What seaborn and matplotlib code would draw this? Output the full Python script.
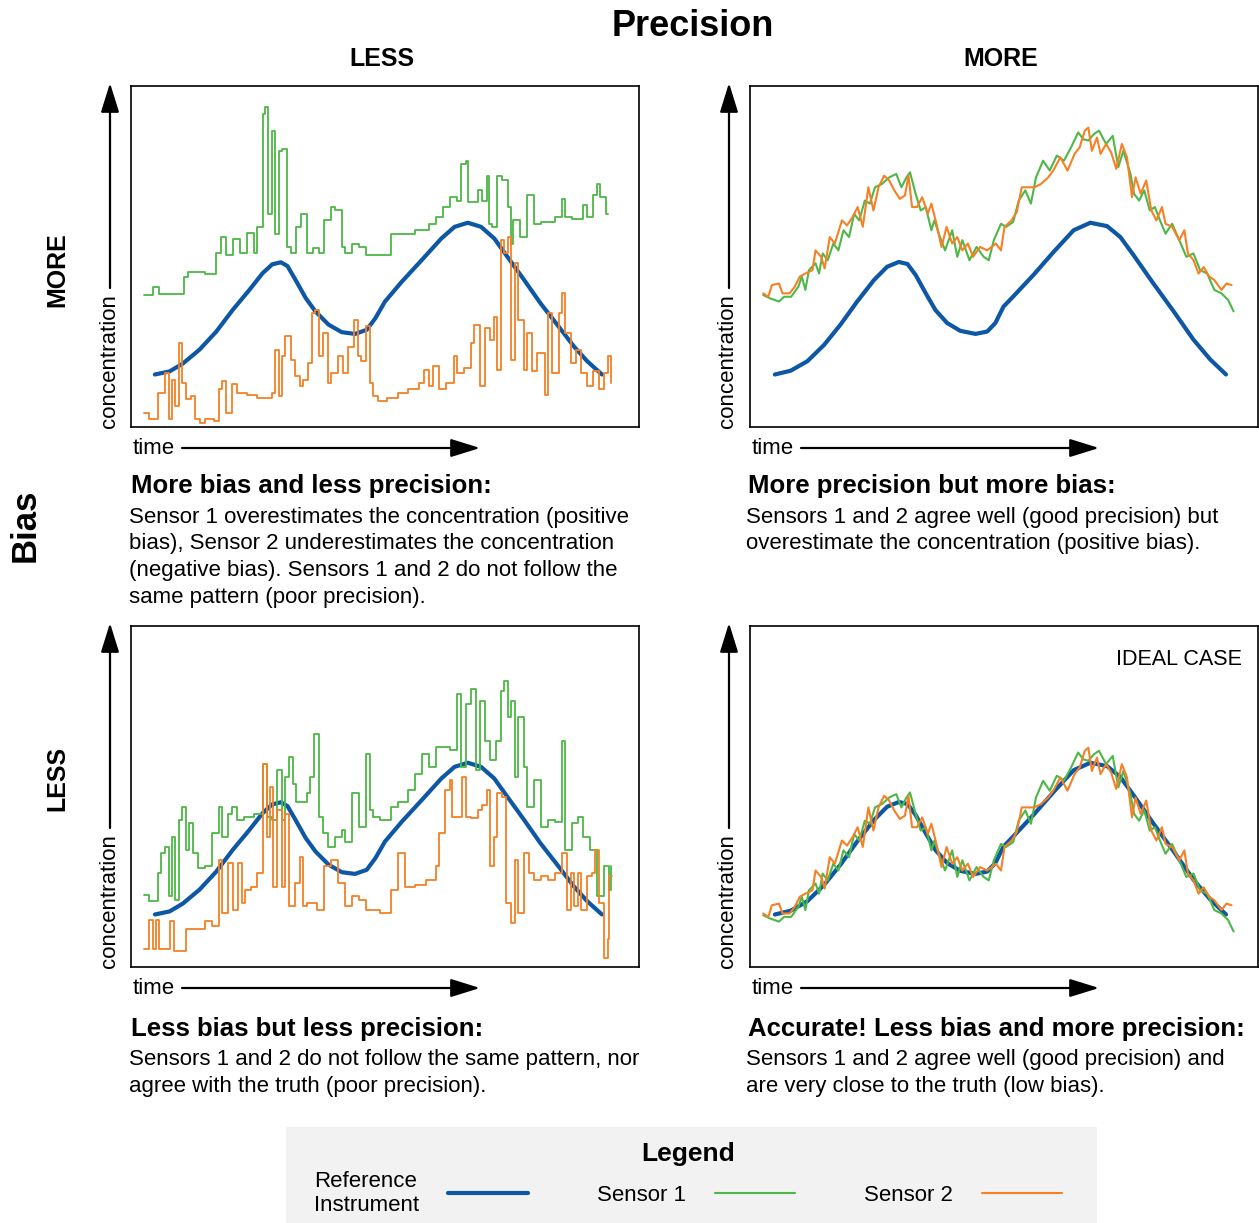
import numpy as np
import matplotlib.pyplot as plt
import seaborn as sns
from matplotlib.patches import Rectangle

sns.set_theme(style="white")
plt.rcParams['font.family'] = ['Liberation Sans', 'DejaVu Sans']
plt.rcParams['text.color'] = 'black'

BLUE = "#0d57a5"
GREEN = "#4cb847"
ORANGE = "#f58025"

# Reference instrument (truth), time and concentration in arbitrary 0-100 units
ref_left_t = [4.7, 7.6, 10.2, 13.5, 16.8, 20.0, 23.3, 25.9, 27.8, 29.5, 30.8, 32.4, 34.4, 36.3,
              38.9, 41.5, 44.1, 46.4, 48.1, 50.0, 53.3, 57.2, 61.1, 63.7, 66.3, 68.9, 71.5, 74.1,
              77.4, 80.6, 83.9, 87.2, 89.8, 92.7]
ref_left_c = [15.4, 16.3, 18.6, 22.7, 28.0, 34.3, 40.2, 45.1, 47.7, 48.3, 47.2, 43.1, 37.8, 33.9,
              30.0, 27.8, 27.3, 28.5, 31.9, 36.8, 42.6, 48.9, 55.3, 58.7, 59.9, 58.7, 55.3, 49.9,
              43.1, 36.3, 30.0, 23.6, 19.3, 15.4]

ref_right_t = [4.9, 8.0, 11.3, 14.6, 17.8, 21.1, 24.4, 27.0, 29.3, 31.0, 32.6, 34.6, 36.5, 38.8,
               41.4, 44.4, 46.7, 48.3, 49.9, 51.9, 55.8, 59.8, 63.7, 67.0, 70.3, 72.9, 75.5, 79.4,
               83.4, 87.3, 90.6, 93.7]
ref_right_c = [15.4, 16.5, 19.3, 24.1, 30.0, 36.8, 43.1, 47.0, 48.4, 47.8, 44.6, 39.2, 34.3, 30.5,
               28.2, 27.3, 28.0, 30.5, 35.3, 38.4, 44.6, 51.4, 57.7, 59.9, 58.9, 55.7, 50.4, 42.1,
               33.9, 25.6, 19.8, 15.4]

# More bias, less precision (top left)
tl_s1_t = [2.5, 4.3, 5.6, 10.5, 11.2, 14.6, 16.7, 17.7, 18.7, 20.1, 21.5, 22.9, 24.2, 24.9, 26.0,
           26.3, 27.0, 27.7, 28.4, 29.1, 29.8, 30.8, 31.5, 32.5, 33.5, 34.6, 35.9, 37.0, 38.0, 39.4,
           40.1, 41.5, 42.1, 43.5, 44.9, 46.3, 51.1, 55.9, 58.7, 60.1, 61.4, 62.8, 64.2, 64.9, 65.9,
           66.3, 68.3, 69.0, 70.0, 70.4, 71.1, 72.1, 73.1, 74.2, 74.9, 75.2, 76.6, 78.0, 79.3, 80.7,
           83.5, 84.8, 85.5, 86.9, 89.0, 89.7, 91.0, 91.7, 92.4, 93.5, 93.8]
tl_s1_c = [38.7, 41.0, 39.0, 44.0, 45.5, 45.0, 51.0, 55.7, 50.4, 55.0, 51.0, 57.0, 51.0, 58.6, 91.7,
           93.7, 62.5, 86.9, 56.7, 81.0, 81.5, 52.8, 50.9, 58.6, 62.5, 50.9, 52.5, 50.9, 60.6, 64.5,
           63.5, 52.8, 51.0, 53.8, 52.8, 50.4, 56.7, 57.7, 59.6, 61.6, 64.5, 67.4, 66.4, 77.1, 78.1,
           66.0, 69.4, 66.4, 73.7, 59.6, 58.6, 73.7, 72.3, 64.5, 53.8, 60.6, 55.7, 67.9, 59.6, 60.1,
           61.6, 66.9, 61.6, 61.0, 65.0, 61.6, 67.9, 71.3, 67.4, 62.5, 62.5]

tl_s2_t = [2.5, 3.6, 5.3, 6.7, 7.4, 8.1, 8.7, 9.4, 10.1, 10.8, 11.8, 12.5, 13.6, 14.6, 16.3, 17.4,
           18.0, 18.7, 19.8, 20.8, 22.9, 24.9, 27.7, 28.4, 29.1, 29.8, 30.4, 31.5, 32.2, 33.2, 33.9,
           34.9, 35.6, 36.3, 37.0, 37.7, 38.7, 39.4, 40.8, 41.8, 42.8, 43.9, 44.6, 45.2, 46.3, 47.0,
           47.7, 48.7, 50.4, 52.5, 54.5, 56.6, 57.6, 58.7, 59.4, 60.7, 62.1, 63.5, 64.2, 65.6, 66.9,
           67.6, 68.7, 69.7, 70.7, 71.4, 72.1, 72.8, 73.5, 74.2, 74.9, 75.6, 76.2, 77.3, 78.0, 79.0,
           80.0, 81.4, 82.1, 82.8, 84.2, 84.8, 85.5, 86.6, 87.6, 88.6, 89.7, 91.0, 92.1, 93.1, 93.8, 94.4]
tl_s2_c = [4.2, 2.2, 10.0, 15.9, 2.2, 13.9, 6.1, 24.6, 12.9, 8.1, 9.0, 2.2, 1.3, 2.2, 1.8, 11.0,
           13.4, 4.2, 12.5, 10.0, 9.5, 8.6, 10.0, 22.7, 9.0, 20.7, 26.6, 19.7, 14.9, 12.0, 13.9,
           18.8, 33.4, 34.3, 20.7, 27.5, 12.9, 15.9, 20.7, 15.9, 23.6, 31.4, 20.7, 19.3, 29.5, 12.9,
           9.0, 7.6, 8.6, 10.0, 11.0, 12.9, 16.8, 12.0, 17.8, 11.0, 12.9, 20.7, 15.9, 17.3, 24.6,
           30.0, 12.0, 29.0, 25.6, 32.4, 16.8, 54.8, 50.9, 55.7, 19.7, 48.0, 31.4, 16.8, 27.5, 16.3,
           21.7, 9.5, 33.4, 15.9, 33.4, 39.2, 27.5, 18.8, 22.7, 15.9, 12.0, 16.3, 11.0, 15.9, 20.7, 12.9]

# Less bias, less precision (bottom left)
bl_s1_t = [2.5, 3.6, 5.3, 6.0, 6.7, 7.4, 8.1, 8.7, 9.4, 10.1, 10.8, 11.5, 12.2, 13.2, 14.6, 16.0,
           17.4, 18.0, 19.1, 19.8, 20.8, 22.2, 24.2, 26.0, 26.7, 27.7, 28.7, 29.8, 30.4, 31.1, 31.8,
           32.5, 34.6, 35.3, 36.0, 37.0, 37.7, 38.7, 40.1, 41.5, 42.1, 43.5, 44.9, 46.3, 47.0, 47.7,
           49.0, 51.1, 52.5, 54.5, 55.9, 57.3, 58.7, 60.1, 62.8, 64.2, 64.9, 65.9, 66.9, 68.0, 68.7,
           69.7, 70.7, 71.8, 72.8, 73.5, 74.2, 74.9, 75.6, 76.2, 77.3, 78.0, 79.3, 80.7, 82.1, 83.5,
           84.8, 85.5, 86.9, 87.9, 89.0, 90.4, 91.7, 93.1, 94.1, 94.5]
bl_s1_c = [21.2, 19.3, 27.5, 33.4, 35.3, 20.7, 38.2, 19.7, 43.1, 47.0, 34.3, 42.1, 33.4, 29.0, 29.5, 39.2,
           47.0, 38.2, 45.0, 47.0, 43.1, 44.1, 45.0, 59.6, 44.1, 43.1, 57.7, 43.1, 55.7, 61.6, 53.8,
           48.4, 50.9, 55.7, 68.4, 44.1, 39.2, 35.3, 38.2, 40.1, 36.6, 50.9, 41.1, 62.5, 46.0, 44.1,
           43.1, 47.0, 48.4, 51.8, 56.7, 62.5, 58.6, 64.5, 63.5, 80.1, 58.6, 77.1, 81.5, 57.7, 78.1,
           66.4, 60.6, 66.4, 81.0, 83.9, 73.2, 78.1, 55.7, 73.2, 58.6, 47.0, 54.7, 41.1, 43.1, 42.6,
           66.4, 34.3, 42.1, 44.1, 38.2, 34.3, 20.7, 29.5, 22.7, 29.5]

bl_s2_t = [2.5, 3.6, 4.3, 5.0, 5.6, 7.7, 8.4, 10.8, 14.6, 16.0, 17.4, 18.0, 19.1, 20.1, 21.1, 21.8,
           22.5, 23.6, 24.9, 26.0, 26.7, 27.3, 28.0, 28.7, 29.8, 30.4, 31.1, 32.2, 33.2, 33.9, 34.6,
           36.6, 38.0, 39.4, 40.8, 42.1, 43.5, 44.9, 46.3, 49.0, 51.1, 52.5, 53.9, 55.9, 58.0, 60.1,
           60.7, 61.8, 62.8, 63.2, 65.2, 65.9, 66.9, 68.3, 69.0, 70.0, 70.7, 71.4, 72.1, 73.1, 73.8,
           74.9, 75.6, 76.2, 77.3, 78.3, 79.3, 80.7, 82.1, 83.5, 84.8, 85.9, 86.6, 87.3, 87.9, 88.6,
           89.7, 90.7, 91.4, 92.1, 93.1, 93.8, 94.1, 94.6]
bl_s2_c = [5.2, 13.9, 5.2, 13.9, 5.2, 13.4, 4.7, 11.0, 13.4, 12.0, 31.4, 15.9, 30.5, 16.8, 30.5, 18.8,
           22.7, 23.6, 27.5, 59.6, 38.2, 52.8, 23.6, 46.0, 23.6, 45.0, 17.8, 24.6, 32.3, 17.8, 18.8,
           16.8, 29.5, 31.4, 24.6, 17.8, 20.7, 19.7, 16.8, 15.9, 22.7, 33.4, 23.6, 24.1, 25.6, 29.5,
           39.2, 51.8, 54.8, 44.1, 55.7, 44.1, 43.6, 46.0, 47.5, 51.8, 29.5, 38.2, 50.9, 49.9, 18.8,
           12.9, 31.4, 15.9, 33.4, 27.5, 25.6, 26.6, 25.6, 27.5, 33.4, 16.8, 27.5, 17.8, 27.5, 16.8,
           26.6, 27.5, 34.3, 18.8, 2.7, 8.1, 26.6, 26.6]

# More precision, more bias (top right); ideal case uses the same readings without the bias
tr_s1_t = [2.6, 4.0, 5.7, 6.7, 8.1, 9.5, 10.2, 10.9, 11.6, 12.9, 13.6, 14.3, 15.3, 16.4, 17.4, 18.4,
           19.5, 20.5, 21.5, 22.6, 23.6, 24.6, 26.0, 27.4, 28.8, 29.8, 30.8, 31.5, 32.6, 33.6, 34.6,
           35.7, 36.3, 37.4, 38.4, 39.8, 40.8, 41.8, 43.2, 44.6, 46.0, 47.0, 48.0, 49.4, 50.4, 51.8,
           52.9, 54.2, 55.3, 56.3, 57.7, 59.0, 60.4, 61.8, 63.2, 64.6, 65.6, 66.6, 67.7, 68.7, 70.1,
           71.4, 72.5, 73.5, 74.9, 75.6, 76.6, 77.6, 78.7, 79.7, 80.7, 81.8, 83.1, 84.5, 85.9, 87.3,
           88.6, 90.0, 91.4, 92.8, 94.1, 95.2]
tr_s1_c = [38.7, 37.7, 36.8, 38.2, 38.2, 41.1, 44.1, 40.2, 46.0, 48.0, 45.0, 50.9, 48.9, 53.8, 51.8, 57.7,
           55.7, 62.5, 60.6, 66.4, 65.5, 70.3, 71.3, 73.2, 74.2, 70.3, 73.2, 74.7, 68.4, 63.5, 64.5,
           57.7, 60.6, 55.7, 51.8, 57.7, 49.9, 54.8, 48.9, 52.8, 49.9, 48.9, 54.8, 59.6, 58.7, 60.1,
           66.4, 69.4, 65.5, 73.2, 78.1, 75.2, 79.6, 78.1, 82.0, 86.4, 84.4, 84.0, 85.9, 86.9, 83.0,
           85.4, 76.2, 81.0, 74.2, 68.4, 66.4, 69.4, 63.5, 64.5, 60.6, 56.7, 59.6, 54.8, 49.9, 50.9,
           46.0, 45.0, 40.2, 39.2, 37.3, 33.9]

tr_s2_t = [2.6, 3.6, 4.3, 5.7, 6.4, 7.8, 8.8, 9.8, 10.9, 12.3, 12.9, 14.0, 14.7, 15.7, 16.7, 18.1,
           19.1, 20.2, 21.2, 22.2, 23.3, 24.3, 25.3, 26.4, 27.4, 28.4, 29.5, 30.5, 31.2, 31.9, 32.9,
           33.9, 35.0, 35.7, 36.7, 37.7, 38.7, 39.8, 40.8, 41.8, 42.9, 43.9, 45.3, 46.7, 48.4, 49.4,
           50.1, 51.5, 52.5, 53.5, 54.9, 56.0, 57.3, 58.7, 59.7, 61.1, 62.5, 63.9, 64.9, 65.9, 66.6,
           67.3, 68.3, 69.0, 70.1, 71.1, 72.1, 73.2, 74.2, 75.2, 75.9, 76.9, 78.0, 79.0, 80.0, 81.1,
           81.8, 83.1, 84.5, 85.5, 86.2, 87.3, 88.3, 89.3, 90.4, 91.4, 92.8, 93.8, 94.8]
tr_s2_c = [39.2, 38.2, 41.6, 42.1, 39.2, 39.2, 41.1, 44.1, 45.0, 46.0, 51.8, 49.9, 46.5, 55.7, 53.8, 60.6,
           59.1, 61.6, 64.5, 58.7, 70.3, 63.5, 70.3, 73.7, 72.3, 69.4, 66.9, 67.9, 73.7, 64.5, 64.5,
           67.4, 62.5, 65.5, 59.6, 52.8, 58.7, 53.8, 55.7, 51.8, 53.8, 49.9, 52.8, 51.8, 53.8, 51.8,
           58.7, 60.6, 63.0, 70.3, 70.3, 70.3, 71.3, 73.2, 75.2, 79.1, 75.2, 80.1, 82.0, 86.9, 87.8,
           81.0, 84.9, 80.1, 83.0, 80.5, 75.7, 83.0, 79.1, 67.4, 73.2, 68.4, 72.3, 63.5, 60.6, 64.5,
           59.6, 58.7, 54.8, 57.7, 50.9, 48.9, 45.0, 46.9, 44.1, 43.1, 40.2, 42.1, 41.6]

BIAS = 23.5  # offset between top right and ideal case readings

W, H = 1259, 1223
fig = plt.figure(figsize=(W / 100, H / 100), dpi=100)
fig.patch.set_facecolor("white")


def fx(x):
    return x / W


def fy(y):
    return 1 - y / H


def panel(left, top, ref_t, ref_c, s1_t, s1_c, s2_t, s2_c, steps):
    ax = fig.add_axes([fx(left), fy(top + 341), 508 / W, 341 / H])
    kw = dict(drawstyle="steps-post") if steps else {}
    lw = 1.3 if steps else 1.5
    sns.lineplot(x=ref_t, y=ref_c, ax=ax, color=BLUE, lw=3.0, sort=False,
                 estimator=None, solid_capstyle="round", solid_joinstyle="round",
                 label="Reference\nInstrument")
    sns.lineplot(x=s1_t, y=s1_c, ax=ax, color=GREEN, lw=lw, sort=False,
                 estimator=None, label="Sensor 1", **kw)
    sns.lineplot(x=s2_t, y=s2_c, ax=ax, color=ORANGE, lw=lw, sort=False,
                 estimator=None, label="Sensor 2", **kw)
    ax.get_legend().remove()
    ax.set_xlim(0, 100)
    ax.set_ylim(0, 100)
    ax.set_xticks([])
    ax.set_yticks([])
    for sp in ax.spines.values():
        sp.set_visible(True)
        sp.set_color("black")
        sp.set_linewidth(1.2)

    # axis arrows and labels
    bottom = top + 341
    arrow = dict(arrowstyle="-|>,head_length=0.9,head_width=0.28", color="black",
                 lw=1.6, mutation_scale=20, shrinkA=0, shrinkB=0)
    ax.annotate("", xy=(left - 21, H - (top - 3)), xytext=(left - 21, H - (top + 202)),
                xycoords="figure pixels", textcoords="figure pixels", arrowprops=arrow)
    fig.text(fx(left - 22), fy(top + 275), "concentration", rotation=90,
             ha="center", va="center", fontsize=16)
    ax.annotate("", xy=(left + 349, H - (bottom + 21)), xytext=(left + 51, H - (bottom + 21)),
                xycoords="figure pixels", textcoords="figure pixels", arrowprops=arrow)
    fig.text(fx(left + 2), fy(bottom + 21), "time", ha="left", va="center", fontsize=16)
    return ax


ax_tl = panel(131, 86, ref_left_t, ref_left_c, tl_s1_t, tl_s1_c, tl_s2_t, tl_s2_c, True)
ax_tr = panel(750, 86, ref_right_t, ref_right_c, tr_s1_t, tr_s1_c, tr_s2_t, tr_s2_c, False)
ax_bl = panel(131, 626, ref_left_t, ref_left_c, bl_s1_t, bl_s1_c, bl_s2_t, bl_s2_c, True)
ax_br = panel(750, 626, ref_right_t, ref_right_c, tr_s1_t, np.array(tr_s1_c) - BIAS,
              tr_s2_t, np.array(tr_s2_c) - BIAS, False)

# headings
fig.text(fx(693), fy(27), "Precision", ha="center", va="center", fontsize=26, weight="bold")
fig.text(fx(382), fy(59), "LESS", ha="center", va="center", fontsize=18, weight="bold")
fig.text(fx(1001), fy(59), "MORE", ha="center", va="center", fontsize=18, weight="bold")
fig.text(fx(25), fy(525), "Bias", rotation=90, ha="center", va="center", fontsize=25, weight="bold")
fig.text(fx(57), fy(270), "MORE", rotation=90, ha="center", va="center", fontsize=18, weight="bold")
fig.text(fx(57), fy(778), "LESS", rotation=90, ha="center", va="center", fontsize=18, weight="bold")
fig.text(fx(1242), fy(659), "IDEAL CASE", ha="right", va="center", fontsize=15.5)

captions = [
    (131, 486, "More bias and less precision:",
     ["Sensor 1 overestimates the concentration (positive",
      "bias), Sensor 2 underestimates the concentration",
      "(negative bias). Sensors 1 and 2 do not follow the",
      "same pattern (poor precision)."]),
    (748, 486, "More precision but more bias:",
     ["Sensors 1 and 2 agree well (good precision) but",
      "overestimate the concentration (positive bias)."]),
    (131, 1029, "Less bias but less precision:",
     ["Sensors 1 and 2 do not follow the same pattern, nor",
      "agree with the truth (poor precision)."]),
    (748, 1029, "Accurate! Less bias and more precision:",
     ["Sensors 1 and 2 agree well (good precision) and",
      "are very close to the truth (low bias)."]),
]
for x, y, title, lines in captions:
    fig.text(fx(x), fy(y), title, ha="left", va="center", fontsize=18.5, weight="bold")
    for i, line in enumerate(lines):
        fig.text(fx(x - 2), fy(y + 31 + i * 26.7), line, ha="left", va="center", fontsize=16)

# legend
fig.patches.append(Rectangle((fx(286), 0), (1097 - 286) / W, (1223 - 1127) / H,
                             transform=fig.transFigure, facecolor="#f2f2f2",
                             edgecolor="none", zorder=0))
handles = ax_tr.get_lines()[:3]
leg = fig.legend(handles, ["Reference\nInstrument", "Sensor 1", "Sensor 2"],
                 loc="center", bbox_to_anchor=(fx(688), fy(1179)), ncol=3, frameon=False,
                 title="Legend", title_fontproperties={"weight": "bold", "size": 19},
                 fontsize=16, markerfirst=False, handlelength=3.6, handletextpad=1.3,
                 columnspacing=3.1, labelspacing=0.2)
for t in leg.get_texts():
    t.set_multialignment("left")
    t.set_color("black")
leg.get_title().set_color("black")

fig.savefig("out.png", dpi=100)
